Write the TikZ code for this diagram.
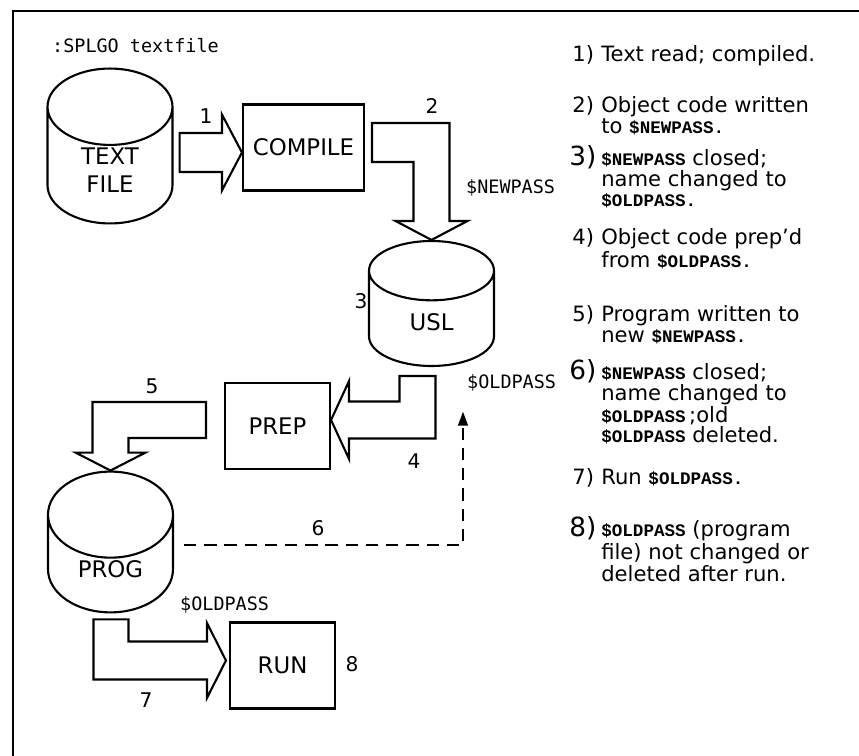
\documentclass[tikz,border=0pt]{standalone}
\usepackage{fontspec}
\setmainfont{DejaVu Sans}
\newfontfamily\pathfont{DejaVu Sans Mono}
\newfontfamily\namefont{Liberation Mono}
\usetikzlibrary{positioning,calc}
\usetikzlibrary{arrows.meta,shapes.geometric}
% file names inside the notes
\newcommand{\fname}[1]{{\namefont\bfseries\fontsize{10}{11}\selectfont #1}}
\newcommand{\bignum}[1]{{\fontsize{15}{12}\selectfont #1}}
\newcommand{\note}[2]{\makebox[0.58cm][l]{#1}\parbox[t]{5cm}{\raggedright #2}}
\newcommand{\bignote}[2]{\makebox[0.64cm][l]{\bignum{#1}}\parbox[t]{5cm}{\raggedright #2}}
\tikzset{
  box/.style={draw=black,line width=1.2pt,minimum height=1.72cm,font=\fontsize{13}{15}\selectfont},
  drum/.style={cylinder,shape border rotate=90,draw=black,line width=1.2pt,aspect=1.25,inner sep=1pt,
    minimum width=2.5cm,minimum height=2.5cm,align=center,anchor=shape center,font=\fontsize{13}{16}\selectfont},
  blk/.style={draw=black,line width=1.2pt,fill=white,line join=miter},
  num/.style={font=\fontsize{11.5}{13}\selectfont},
  pname/.style={anchor=west,font=\pathfont\fontsize{10.5}{12}\selectfont},
  notes/.style={anchor=base west,inner sep=0pt,font=\fontsize{12}{11.4}\selectfont},
}

\begin{document}
\begin{tikzpicture}[x=0.02cm,y=-0.02cm]
\useasboundingbox (0,0) rectangle (859,756);
\draw[line width=1.6pt] (13,756) -- (13,11) -- (859,11);

\node[pname] (cmd) at (46,46) {:SPLGO textfile};

\node[drum] (tf) at (110,146) {TEXT\\FILE};
\node[box,minimum width=2.42cm] (comp) at (303.5,147.5) {COMPILE};
\node[drum] (usl) at (431.5,303.5) {USL};
\node[box,minimum width=2.1cm] (prep) at (277.5,426) {PREP};
\node[drum] (prog) at (110.5,542) {PROG};
\node[box,minimum width=2.1cm] (run) at (282.5,665.5) {RUN};

% 1: text file into the compiler
\draw[blk] ($(comp.west)+(0,5)$) -- ++(-20,-38) -- ++(0,18.5) -- ($(tf.east |- comp.west)+(6,-14.5)$)
  -- ++(0,39) -- ($(comp.west)+(-20,24.5)$) -- ++(0,18.5) -- cycle;
% 2: object code down to USL
\draw[blk] (usl.north) -- ++(36,-19) -- ++(-18,0) |- ($(comp.east)+(7,-24.5)$)
  -- ++(0,39) -| ($(usl.north)+(-18,-19)$) -- ++(-18,0) -- cycle;
% 4: USL into prep
\draw[blk] ($(prep.east)+(0,-6)$) -- ++(18,-39) -- ++(0,20.5) -| ($(usl.south)+(-32,9)$)
  -- ++(36,0) |- ($(prep.east)+(18,12.5)$) -- ++(0,20.5) -- cycle;
% 5: prep out to the program file
\draw[blk] (prog.north) -- ++(-35,-18) -- ++(17,0) |- ($(prep.west)+(-18,-24)$)
  -- ++(0,36) -| ($(prog.north)+(18,-18)$) -- ++(17,0) -- cycle;
% 7: program file to run
\draw[blk] ($(run.west)+(-3,-5)$) -- ++(-19,-37.5) -- ++(0,18.5) -| ($(prog.south)+(18,6)$)
  -- ++(-35,0) |- ($(run.west)+(-22,14)$) -- ++(0,18.5) -- cycle;

\node[pname] (np) at (460,188) {\$NEWPASS};
\node[pname] (op1) at (461,383) {\$OLDPASS};
\node[pname] (op2) at (174,605) {\$OLDPASS};

% 6: rename, dashed
\draw[line width=1.2pt,dash pattern=on 7pt off 4.5pt,-{Triangle[length=8pt,width=5.5pt]}]
  ($(prog.shape center -| prog.east)+(10,3)$) -| ($(op1.south west)+(2,14)$);

\node[num] (n1) at (206,116) {1};
\node[num] (n2) at (432,106) {2};
\node[num] (n3) at (361,301) {3};
\node[num] (n4) at (414,461) {4};
\node[num] (n5) at (152,386) {5};
\node[num] (n6) at (318,528) {6};
\node[num] (n7) at (146,700) {7};
\node[num] (n8) at (352,664) {8};

% notes column
\node[notes] (s1) at (572,62) {\note{1)}{Text read; compiled.}};
\node[notes] (s2) at (572,113) {\note{2)}{Object code written\\to \fname{\$NEWPASS.}}};
\node[notes] (s3) at (569,166) {\bignote{3)}{\fname{\$NEWPASS} closed;\\name changed to\\\fname{\$OLDPASS.}}};
\node[notes] (s4) at (572,245) {\note{4)}{Object code prep'd\\from \fname{\$OLDPASS.}}};
\node[notes] (s5) at (572,322) {\note{5)}{Program written to\\new \fname{\$NEWPASS.}}};
\node[notes] (s6) at (569,380) {\bignote{6)}{\fname{\$NEWPASS} closed;\\name changed to\\\fname{\$OLDPASS}\,;old\\\fname{\$OLDPASS} deleted.}};
\node[notes] (s7) at (572,485) {\note{7)}{Run \fname{\$OLDPASS.}}};
\node[notes] (s8) at (569,537) {\bignote{8)}{\fname{\$OLDPASS} (program\\file) not changed or\\deleted after run.}};
\end{tikzpicture}
\end{document}
